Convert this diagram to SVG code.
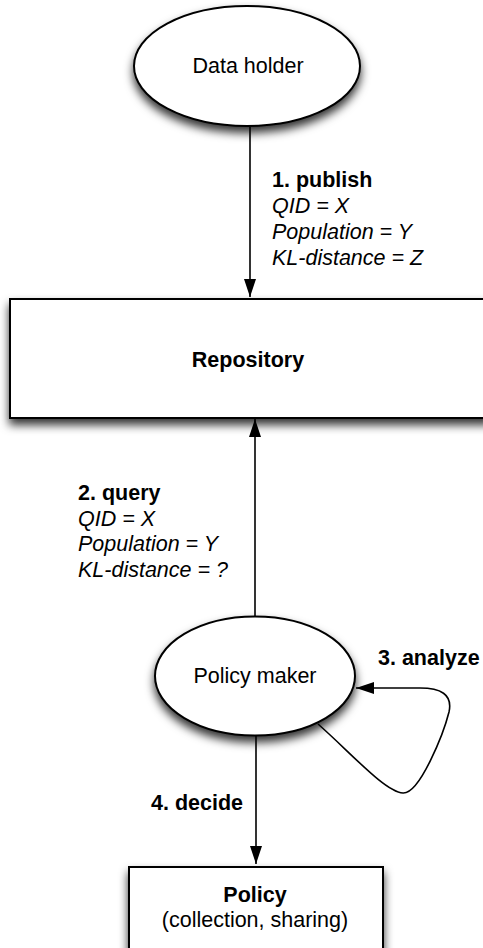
<svg xmlns="http://www.w3.org/2000/svg" width="483" height="948" viewBox="0 0 483 948">
  <defs>
    <filter id="shadow" x="-20%" y="-20%" width="140%" height="150%">
      <feDropShadow dx="0" dy="6" stdDeviation="5" flood-color="#000" flood-opacity="0.8"/>
    </filter>
    <marker id="arrow" viewBox="0 0 18 12" refX="18" refY="6" markerWidth="18" markerHeight="12" markerUnits="userSpaceOnUse" orient="auto">
      <path d="M0,0 L18,6 L0,12 Z" fill="#000"/>
    </marker>
  </defs>
  <style>
    .shape { fill: #fff; stroke: #000; stroke-width: 2; }
    .edge { fill: none; stroke: #000; stroke-width: 1.6; marker-end: url(#arrow); }
    text { font-family: "Liberation Sans", Arial, Helvetica, sans-serif; font-size: 21.5px; fill: #000; }
    .b { font-weight: bold; }
    .i { font-style: italic; }
    .c { text-anchor: middle; }
  </style>

  <!-- connectors -->
  <g id="connectors">
    <path class="edge" d="M250,127 L250,297"/>
    <path class="edge" d="M255,616 L255,419"/>
    <path class="edge" d="M318,724 C350,752 385,792 403,793 C420,794 444,732 449,712 C453,694 440,688 420,688 L356,688"/>
    <path class="edge" d="M256,736 L256,864"/>
  </g>

  <!-- nodes -->
  <g id="data-holder">
    <ellipse class="shape" cx="247" cy="66" rx="113" ry="60" filter="url(#shadow)"/>
    <text class="c" x="248" y="73">Data holder</text>
  </g>

  <g id="repository">
    <rect class="shape" x="10" y="299" width="480" height="119" filter="url(#shadow)"/>
    <text class="b c" x="248" y="367">Repository</text>
  </g>

  <g id="policy-maker">
    <ellipse class="shape" cx="255" cy="676" rx="100" ry="59.5" filter="url(#shadow)"/>
    <text class="c" x="255" y="683">Policy maker</text>
  </g>

  <g id="policy">
    <rect class="shape" x="129" y="867" width="254" height="100" filter="url(#shadow)"/>
    <text class="b c" x="255" y="902">Policy</text>
    <text class="c" x="255" y="927">(collection, sharing)</text>
  </g>

  <!-- edge labels -->
  <g id="label-publish">
    <text class="b" x="272" y="187">1. publish</text>
    <text class="i" x="272" y="213">QID = X</text>
    <text class="i" x="272" y="239">Population = Y</text>
    <text class="i" x="272" y="265">KL-distance = Z</text>
  </g>
  <g id="label-query">
    <text class="b" x="78" y="500">2. query</text>
    <text class="i" x="78" y="525.5">QID = X</text>
    <text class="i" x="78" y="551">Population = Y</text>
    <text class="i" x="78" y="577">KL-distance = ?</text>
  </g>
  <g id="label-analyze">
    <text class="b" x="378" y="665">3. analyze</text>
  </g>
  <g id="label-decide">
    <text class="b" x="243" y="810" text-anchor="end">4. decide</text>
  </g>
</svg>
